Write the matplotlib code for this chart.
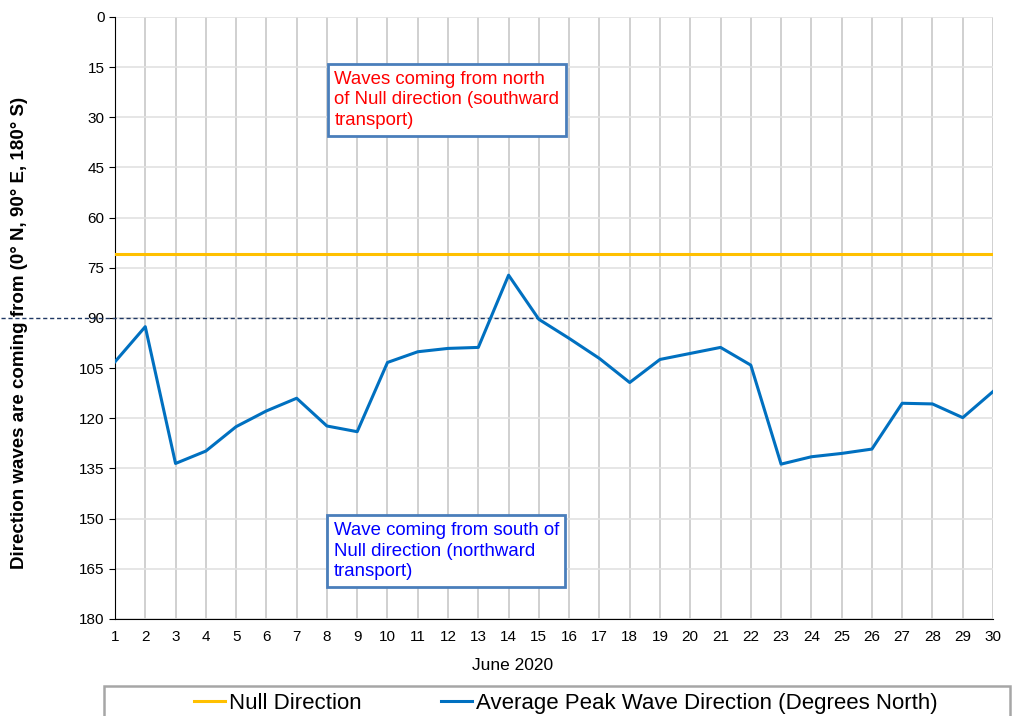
import numpy as np
import matplotlib.pyplot as plt
from matplotlib.patches import Rectangle

# Du lieu doc tu hinh
ngay = list(range(1, 31))
huong_song = [103.1, 92.6, 133.5, 129.8, 122.5, 117.8, 114.0, 122.3, 124.0, 103.3,
              100.1, 99.1, 98.8, 77.2, 90.4, 96.1, 102.1, 109.3, 102.4, 100.6,
              98.8, 104.1, 133.7, 131.5, 130.5, 129.2, 115.5, 115.7, 119.8, 112.0]
huong_null = 71
duong_90 = 90
y_ticks = list(range(0, 181, 15))

plt.rcParams['font.family'] = ['Liberation Sans', 'DejaVu Sans']

fig = plt.figure(figsize=(10.14, 7.16), dpi=100)
ax = fig.add_axes([0.1134, 0.1355, 0.8659, 0.8408])

# duong Null va duong 90
ax.axhline(huong_null, color='#ffc000', lw=2.2, zorder=3)
ax.plot([-2.75, 30], [duong_90, duong_90], color='#1f3864', lw=1, ls=(0, (3, 2)),
        clip_on=False, zorder=3)
ax.plot(ngay, huong_song, color='#0070c0', lw=2.2, zorder=4)

ax.set_xlim(1, 30)
ax.set_ylim(180, 0)
ax.set_xticks(ngay)
ax.set_yticks(y_ticks)
ax.tick_params(axis='both', labelsize=11, length=4, color='black')
ax.tick_params(axis='x', length=0, pad=8)
ax.grid(axis='x', color='#c8c8c8', lw=1.2)
ax.grid(axis='y', color='#e2e2e2', lw=1.2)
ax.set_axisbelow(True)
for s in ['top', 'right']:
    ax.spines[s].set_visible(False)
ax.spines['left'].set_color('black')
ax.spines['bottom'].set_color('black')

ax.set_ylabel('Direction waves are coming from (0° N, 90° E, 180° S)',
              fontsize=13.5, fontweight='bold')
ax.yaxis.set_label_coords(-0.099, 0.475)
ax.set_xlabel('June 2020', fontsize=12.5)
ax.xaxis.set_label_coords(0.453, -0.065)

# hop chu
hop = dict(boxstyle='square,pad=0.35', fc='white', ec='#4a7ebb', lw=2)
ax.text(8.25, 24.8, 'Waves coming from north\nof Null direction (southward\ntransport)',
        color='#ff0000', fontsize=13.4, va='center', ha='left', bbox=hop,
        linespacing=1.3, zorder=5)
ax.text(8.22, 159.7, 'Wave coming from south of\nNull direction (northward\ntransport)',
        color='#0000ff', fontsize=13.4, va='center', ha='left', bbox=hop,
        linespacing=1.3, zorder=5)

# chu giai
fig.patches.append(Rectangle((104 / 1014, -0.02), 906 / 1014, 30 / 716 + 0.02,
                             transform=fig.transFigure, fc='white',
                             ec='#a6a6a6', lw=1.8))
h1, = ax.plot([], [], color='#ffc000', lw=2.2)
h2, = ax.plot([], [], color='#0070c0', lw=2.2)
fig.legend([h1, h2], ['Null Direction', 'Average Peak Wave Direction (Degrees North)'],
           loc='center', bbox_to_anchor=(0.558, 0.018), ncol=2, frameon=False,
           fontsize=16, handlelength=1.4, handletextpad=0.15, columnspacing=3.6)

fig.savefig('out.png', dpi=100)
